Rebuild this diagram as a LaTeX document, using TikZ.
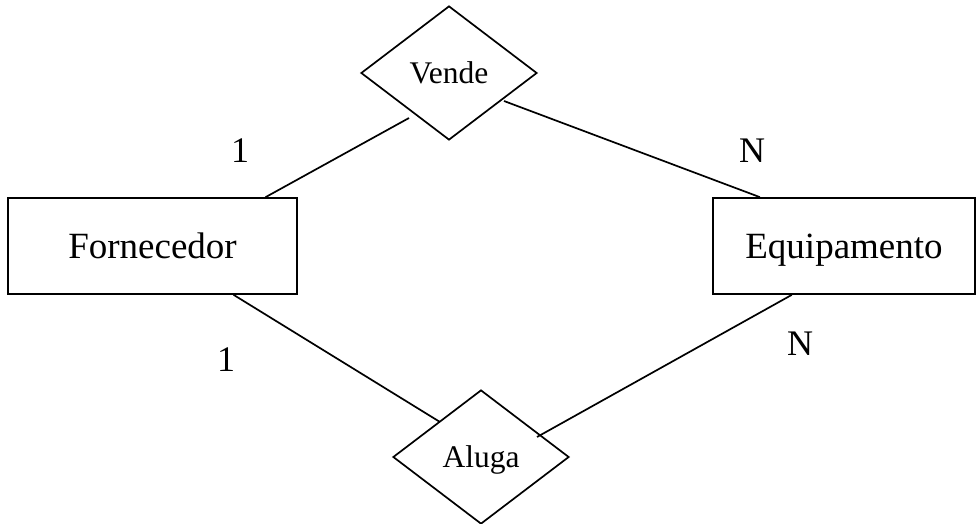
\documentclass[tikz,border=0pt]{standalone}
\usepackage{fontspec}
\setmainfont{Liberation Serif}
\usetikzlibrary{shapes.geometric,calc}
\begin{document}
\begin{tikzpicture}[x=1pt,y=-1pt,
  entity/.style={draw,line width=1.7pt,rectangle,inner sep=0pt,minimum height=96pt,
     font=\fontsize{37}{41}\selectfont,text depth=0pt},
  relation/.style={draw,line width=1.7pt,diamond,inner sep=0pt,minimum width=176pt,minimum height=134pt,
     font=\fontsize{31.5}{35}\selectfont,text depth=0pt},
  card/.style={inner sep=0pt,font=\fontsize{36}{40}\selectfont,text depth=0pt},
  link/.style={line width=1.7pt}]
\useasboundingbox (0,0) rectangle (976,524);
\node[entity,minimum width=289pt] (forn) at (152.5,246) {Fornecedor};
\node[entity,minimum width=262pt] (equip) at (844,246) {Equipamento};
\node[relation] (vende) at (449,73) {Vende};
\node[relation] (aluga) at (481,457) {Aluga};
\coordinate (v1) at (409,118);
\coordinate (v2) at (504,101);
\coordinate (a1) at (440,422);
\coordinate (a2) at (537,437);
\draw[link] ($(forn.north west)!0.889!(forn.north east)$) -- (v1);
\draw[link] ($(equip.north west)!0.181!(equip.north east)$) -- (v2);
\draw[link] ($(forn.south west)!0.779!(forn.south east)$) -- (a1);
\draw[link] ($(equip.south west)!0.302!(equip.south east)$) -- (a2);
\node[card] (c1) at (240,151) {1};
\node[card] (c2) at (752,151) {N};
\node[card] (c3) at (226,360) {1};
\node[card] (c4) at (800,344) {N};
\end{tikzpicture}
\end{document}
